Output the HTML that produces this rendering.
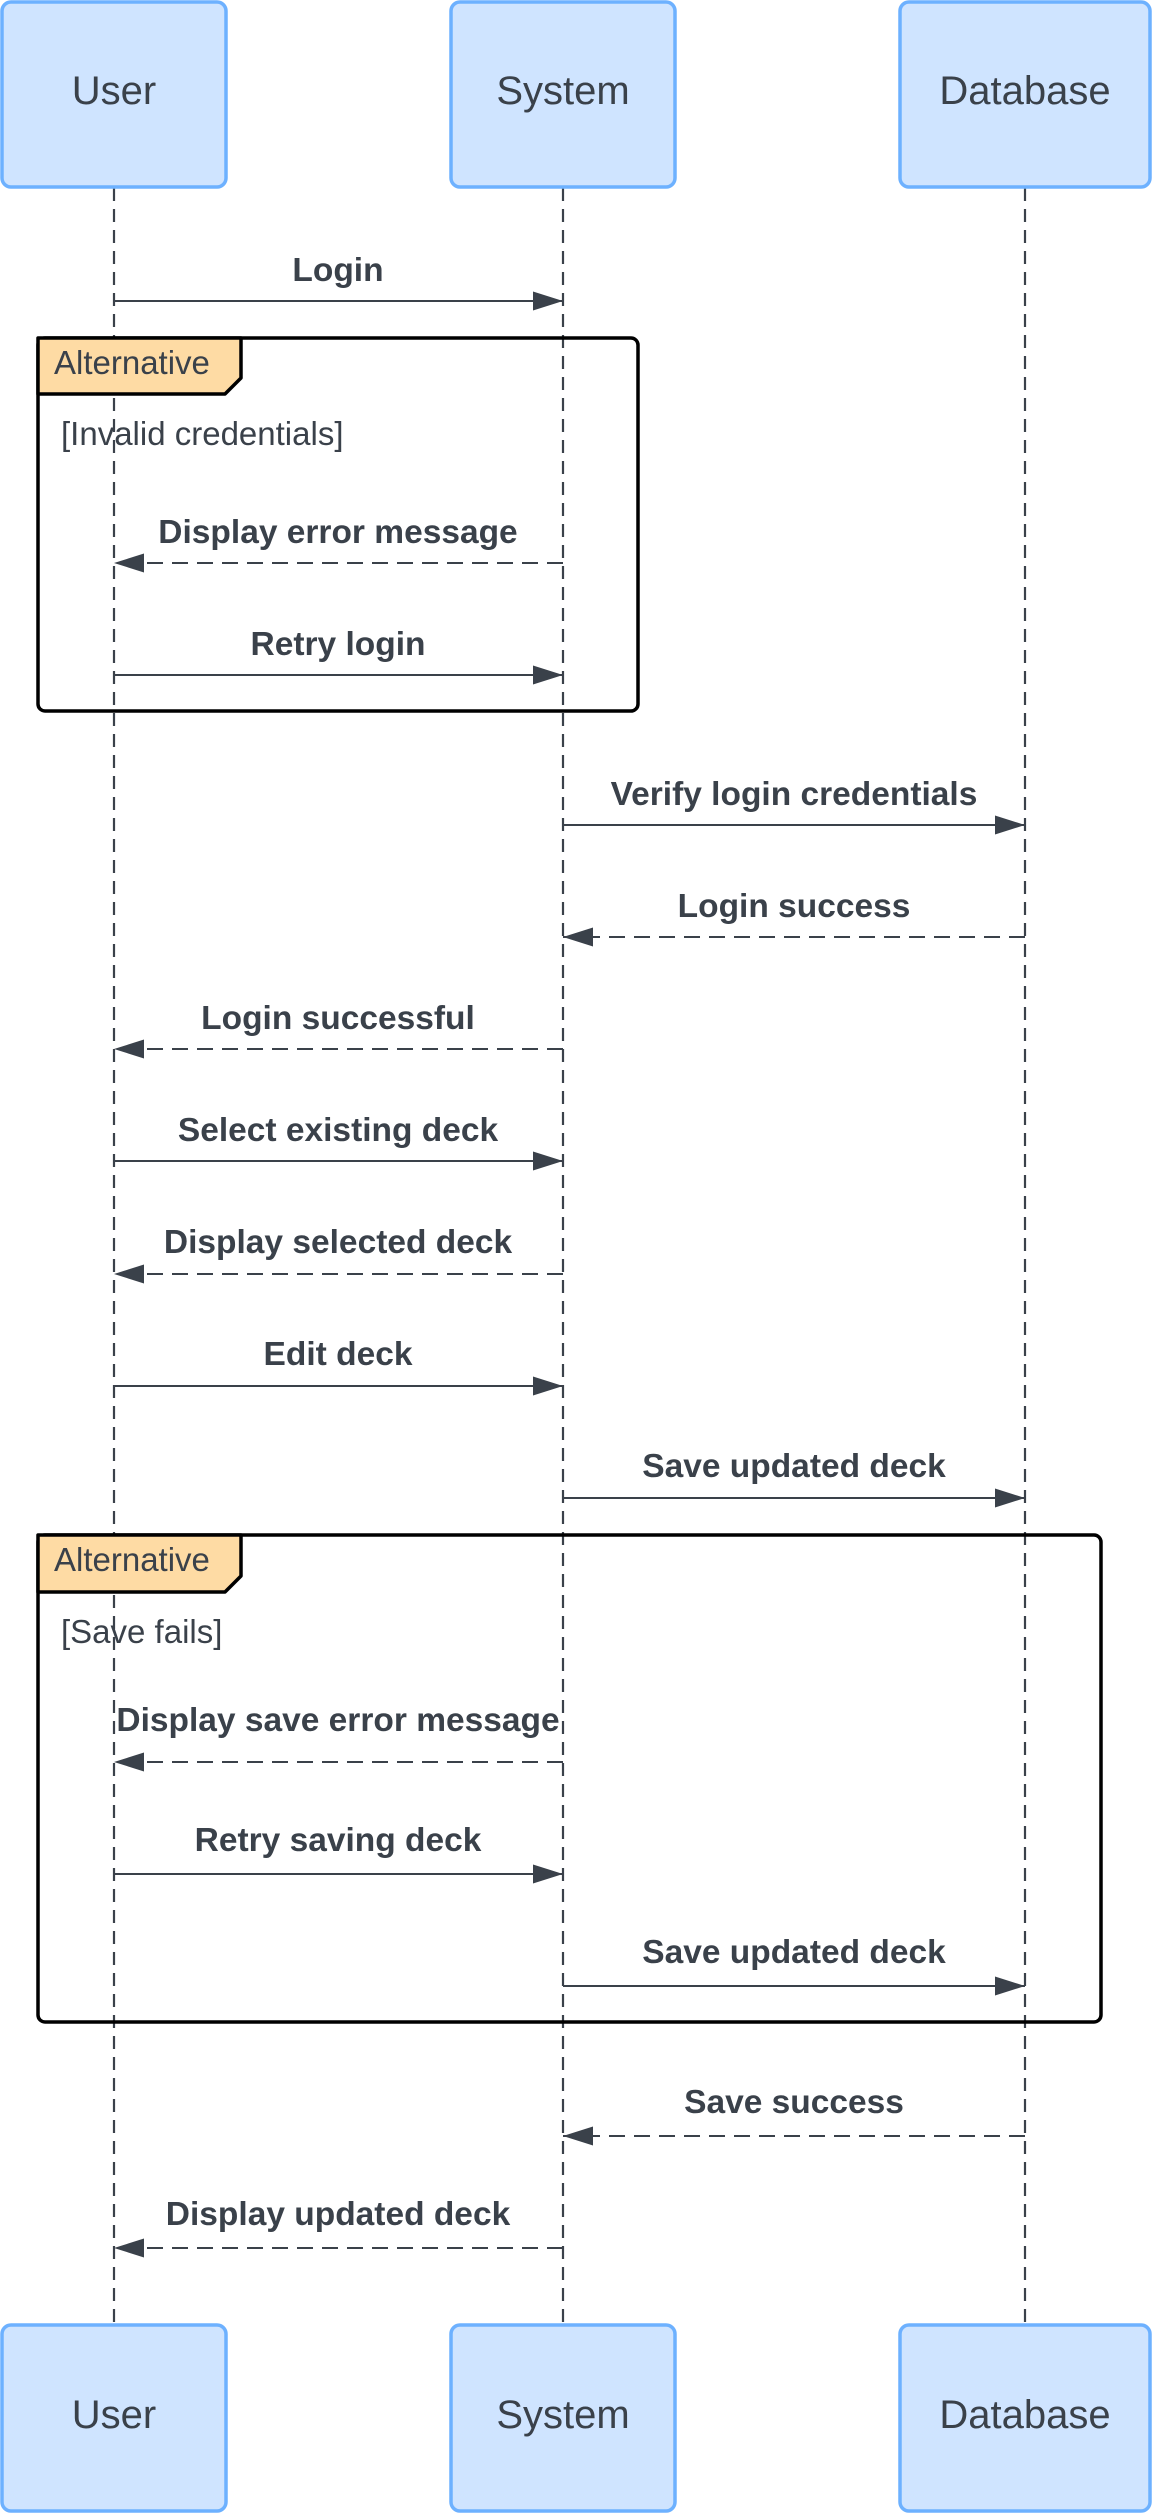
<!DOCTYPE html>
<html><head><meta charset="utf-8"><style>html,body{margin:0;padding:0;background:#fff}svg{display:block}</style></head>
<body>
<svg width="1153" height="2516" viewBox="0 0 1153 2516" xmlns="http://www.w3.org/2000/svg" font-family="Liberation Sans, Arial, sans-serif">
<defs>
<marker id="ah" markerWidth="30" markerHeight="20" refX="30" refY="10" orient="auto" markerUnits="userSpaceOnUse">
<path d="M0,0.5 L30,10 L0,19.5 Z" fill="#3a414a"/>
</marker>
</defs>
<g stroke="#3a414a" stroke-width="2.2" stroke-dasharray="13,8">
<line x1="114" y1="188" x2="114" y2="2324"/>
<line x1="563" y1="188" x2="563" y2="2324"/>
<line x1="1025" y1="188" x2="1025" y2="2324"/>
</g>
<g fill="none" stroke="#000" stroke-width="3.5">
<rect x="38" y="338" width="600" height="373" rx="7"/>
<rect x="38" y="1535" width="1063" height="487" rx="7"/>
</g>
<path d="M38,338 L241,338 L241,378 L225,394 L38,394 Z" fill="#fedba4" stroke="#000" stroke-width="3.5" stroke-linejoin="round"/>
<path d="M38,1535 L241,1535 L241,1576 L225,1592 L38,1592 Z" fill="#fedba4" stroke="#000" stroke-width="3.5" stroke-linejoin="round"/>
<g fill="#3a414a" font-size="33">
<text x="54" y="374">Alternative</text>
<text x="61" y="445">[Invalid credentials]</text>
<text x="54" y="1571">Alternative</text>
<text x="61" y="1643">[Save fails]</text>
</g>
<g fill="#cfe4ff" stroke="#6db1ff" stroke-width="3.5">
<rect x="2" y="2" width="224" height="185" rx="9"/>
<rect x="451" y="2" width="224" height="185" rx="9"/>
<rect x="900" y="2" width="250" height="185" rx="9"/>
<rect x="2" y="2325" width="224" height="186" rx="9"/>
<rect x="451" y="2325" width="224" height="186" rx="9"/>
<rect x="900" y="2325" width="250" height="186" rx="9"/>
</g>
<g fill="#3a414a" font-size="40" text-anchor="middle">
<text x="114" y="104">User</text>
<text x="563" y="104">System</text>
<text x="1025" y="104">Database</text>
<text x="114" y="2428">User</text>
<text x="563" y="2428">System</text>
<text x="1025" y="2428">Database</text>
</g>
<g stroke="#3a414a" stroke-width="2" marker-end="url(#ah)">
<line x1="114" y1="301" x2="563" y2="301"/>
<line x1="563" y1="563" x2="114" y2="563" stroke-dasharray="16,9"/>
<line x1="114" y1="675" x2="563" y2="675"/>
<line x1="563" y1="825" x2="1025" y2="825"/>
<line x1="1025" y1="937" x2="563" y2="937" stroke-dasharray="16,9"/>
<line x1="563" y1="1049" x2="114" y2="1049" stroke-dasharray="16,9"/>
<line x1="114" y1="1161" x2="563" y2="1161"/>
<line x1="563" y1="1274" x2="114" y2="1274" stroke-dasharray="16,9"/>
<line x1="114" y1="1386" x2="563" y2="1386"/>
<line x1="563" y1="1498" x2="1025" y2="1498"/>
<line x1="563" y1="1762" x2="114" y2="1762" stroke-dasharray="16,9"/>
<line x1="114" y1="1874" x2="563" y2="1874"/>
<line x1="563" y1="1986" x2="1025" y2="1986"/>
<line x1="1025" y1="2136" x2="563" y2="2136" stroke-dasharray="16,9"/>
<line x1="563" y1="2248" x2="114" y2="2248" stroke-dasharray="16,9"/>
</g>
<g fill="#3a414a" font-size="33.5" font-weight="bold" text-anchor="middle">
<text x="338" y="281">Login</text>
<text x="338" y="543">Display error message</text>
<text x="338" y="655">Retry login</text>
<text x="794" y="805">Verify login credentials</text>
<text x="794" y="917">Login success</text>
<text x="338" y="1029">Login successful</text>
<text x="338" y="1141">Select existing deck</text>
<text x="338" y="1253">Display selected deck</text>
<text x="338" y="1365">Edit deck</text>
<text x="794" y="1477">Save updated deck</text>
<text x="338" y="1731">Display save error message</text>
<text x="338" y="1851">Retry saving deck</text>
<text x="794" y="1963">Save updated deck</text>
<text x="794" y="2113">Save success</text>
<text x="338" y="2225">Display updated deck</text>
</g>
</svg>
</body></html>
